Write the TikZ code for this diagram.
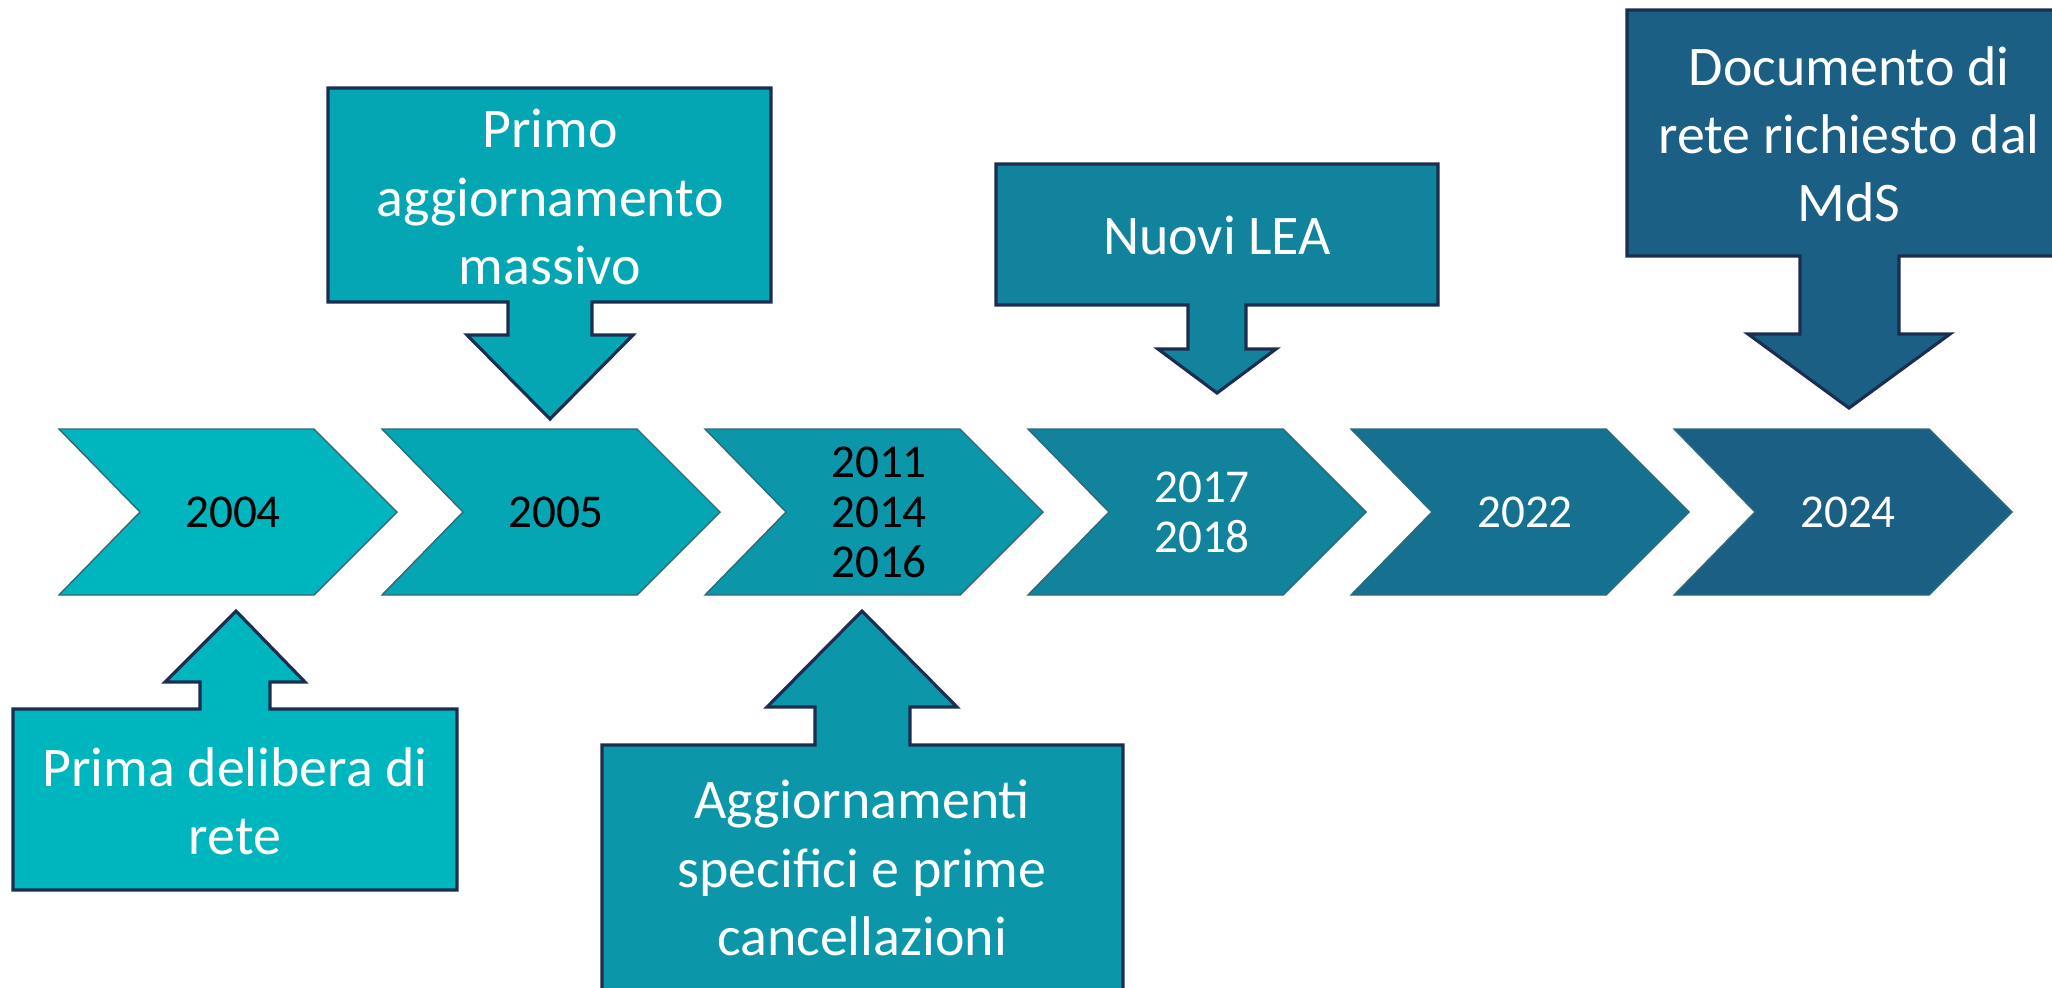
\documentclass[tikz,border=0pt]{standalone}
\usepackage{fontspec}
\setmainfont{Carlito}
\usepackage{xcolor}
\definecolor{stepA}{HTML}{00B6BE}
\definecolor{stepB}{HTML}{05A6B4}
\definecolor{stepC}{HTML}{0C96A9}
\definecolor{stepD}{HTML}{11839C}
\definecolor{stepE}{HTML}{16708F}
\definecolor{stepF}{HTML}{1B5F85}
\definecolor{chevline}{HTML}{2E6A78}
\definecolor{callline}{HTML}{1C2E4F}
\tikzset{
  chev/.style={draw=chevline, line width=0.4pt, line join=miter},
  callbox/.style={draw=callline, line width=0.9pt, line join=miter},
  yeartext/.style={font=\fontsize{13.4}{14.2}\selectfont, align=center},
  calltext/.style={font=\fontsize{15.9}{19.4}\selectfont, align=center, text=white},
}

\begin{document}
\begin{tikzpicture}[x=0.01cm, y=-0.01cm]
    \clip (0,0) rectangle (2052,987);
    % the six steps of the timeline
    \foreach \i/\c in {0/stepA, 1/stepB, 2/stepC, 3/stepD, 4/stepE, 5/stepF}
        \draw[chev, fill=\c, shift={(323*\i,0)}] (59,429) -- (314,429) -- (397,512)
            -- (314,595) -- (59,595) -- (140,512) -- cycle;
    \node[yeartext] (y2004) at (233,512) {2004};
    \node[yeartext] (y2005) at (556,512) {2005};
    \node[yeartext] (y2011) at (879,512) {2011\\2014\\2016};
    \node[yeartext, text=white] (y2017) at (1202,512) {2017\\2018};
    \node[yeartext, text=white] (y2022) at (1525,512) {2022};
    \node[yeartext, text=white] (y2024) at (1848,512) {2024};
    % callouts above
    \draw[callbox, fill=stepB] (328,88) -- (771,88) -- (771,302) -- (592,302) -- (592,335)
        -- (633,335) -- (550,419) -- (467,335) -- (508,335) -- (508,302) -- (328,302) -- cycle;
    \node[calltext] (massivo) at (550,197) {Primo\\aggiornamento\\massivo};
    \draw[callbox, fill=stepD] (996,164) -- (1438,164) -- (1438,305) -- (1246,305) -- (1246,349)
        -- (1276,349) -- (1217,393) -- (1158,349) -- (1188,349) -- (1188,305) -- (996,305) -- cycle;
    \node[calltext] (lea) at (1217,235) {Nuovi LEA};
    \draw[callbox, fill=stepF] (1627,10) -- (2075,10) -- (2075,256) -- (1899,256) -- (1899,334)
        -- (1950,334) -- (1849,408) -- (1748,334) -- (1800,334) -- (1800,256) -- (1627,256) -- cycle;
    \node[calltext] (mds) at (1849,134) {Documento di\\rete richiesto dal\\MdS};
    % callouts below
    \draw[callbox, fill=stepA] (13,890) -- (13,709) -- (200,709) -- (200,682) -- (165,682)
        -- (236,611) -- (305,682) -- (270,682) -- (270,709) -- (457,709) -- (457,890) -- cycle;
    \node[calltext] (delibera) at (235,801) {Prima delibera di\\rete};
    \draw[callbox, fill=stepC] (602,1000) -- (602,745) -- (815,745) -- (815,707) -- (767,707)
        -- (862,611) -- (957,707) -- (910,707) -- (910,745) -- (1123,745) -- (1123,1000) -- cycle;
    \node[calltext] (cancell) at (862,868) {Aggiornamenti\\specifici e prime\\cancellazioni};
\end{tikzpicture}
\end{document}
